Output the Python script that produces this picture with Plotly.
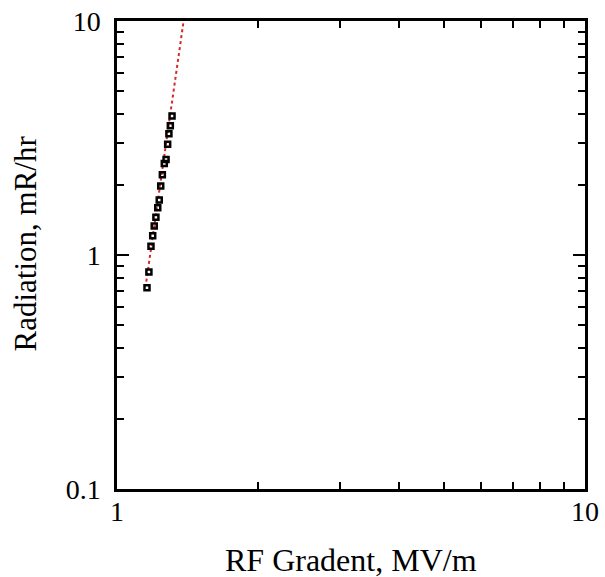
import plotly.graph_objects as go

# Measured data (RF gradient MV/m, radiation mR/hr)
gradient = [1.159, 1.170, 1.182, 1.192, 1.201, 1.211, 1.222, 1.231, 1.240,
            1.250, 1.262, 1.273, 1.283, 1.291, 1.300, 1.311]
radiation = [0.725, 0.846, 1.09, 1.21, 1.33, 1.45, 1.59, 1.72, 1.97,
             2.20, 2.46, 2.56, 2.97, 3.30, 3.57, 3.93]

# Power-law fit line endpoints (straight in log-log)
fit_x = [1.155, 1.40]
fit_y = [0.769, 11.3]

x_ticks = [1, 10]
x_tick_text = ["1", "10"]
y_ticks = [0.1, 1, 10]
y_tick_text = ["0.1", "1", "10"]

x_title = "RF Gradent, MV/m"
y_title = "Radiation, mR/hr"

FONT = "Liberation Serif, Times New Roman, serif"
FS = 28

fig = go.Figure()
fig.add_trace(go.Scatter(
    x=fit_x, y=fit_y, mode="lines",
    line=dict(color="#d62828", width=2, dash="dot"),
    showlegend=False,
))
fig.add_trace(go.Scatter(
    x=gradient, y=radiation, mode="markers",
    marker=dict(symbol="square-open", size=5, color="black",
                line=dict(color="black", width=2.5)),
    showlegend=False,
))

axis_common = dict(
    type="log",
    automargin=False,
    showgrid=False,
    zeroline=False,
    showline=True,
    linecolor="black",
    linewidth=2.5,
    mirror="allticks",
    ticks="inside",
    ticklen=12,
    tickwidth=2,
    tickcolor="black",
    tickfont=dict(family=FONT, size=FS, color="black"),
    minor=dict(ticks="inside", ticklen=7, tickwidth=2, tickcolor="black",
               dtick="D1", showgrid=False),
)

fig.update_xaxes(
    **axis_common,
    range=[0, 1],
    tickvals=x_ticks, ticktext=x_tick_text,
    ticklabelstandoff=-4,
)
fig.update_yaxes(
    **axis_common,
    range=[-1, 1],
    tickvals=y_ticks, ticktext=y_tick_text,
    ticklabelstandoff=8,
)

fig.add_annotation(
    text=x_title, xref="paper", yref="paper",
    x=0.5, y=-0.152, xanchor="center", yanchor="middle",
    showarrow=False, font=dict(family=FONT, size=32, color="black"),
)
fig.add_annotation(
    text=y_title, xref="paper", yref="paper",
    x=-0.195, y=0.524, xanchor="center", yanchor="middle", textangle=-90,
    showarrow=False, font=dict(family=FONT, size=31, color="black"),
)

fig.update_layout(
    width=605, height=577,
    margin=dict(l=117, r=20, t=21, b=88),
    plot_bgcolor="white", paper_bgcolor="white",
)

fig.write_html("out.html", config={"displayModeBar": False},
               post_script="document.body.style.margin='0';")
